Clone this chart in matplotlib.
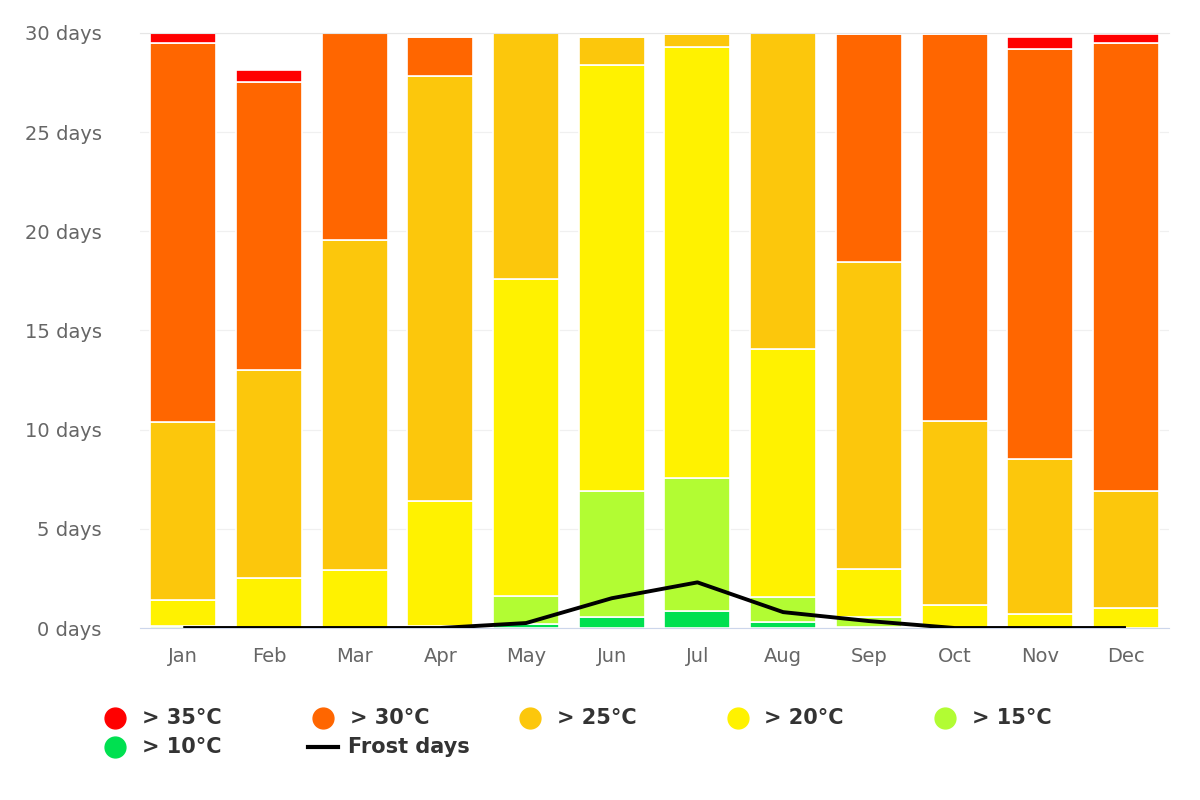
import matplotlib.pyplot as plt
from matplotlib.lines import Line2D
import numpy as np

plt.rcParams['font.family'] = ['DejaVu Sans']

# data (days per month above each temperature)
months = ['Jan', 'Feb', 'Mar', 'Apr', 'May', 'Jun', 'Jul', 'Aug', 'Sep', 'Oct', 'Nov', 'Dec']
d10 = [0, 0, 0, 0, 0.2, 0.55, 0.86, 0.3, 0.05, 0, 0, 0]
d15 = [0.1, 0, 0, 0.1, 1.4, 6.35, 6.7, 1.25, 0.5, 0, 0, 0]
d20 = [1.3, 2.5, 2.9, 6.3, 16.0, 21.5, 21.7, 12.5, 2.4, 1.15, 0.7, 1.0]
d25 = [9.0, 10.5, 16.65, 21.4, 12.4, 1.4, 0.7, 16.0, 15.5, 9.3, 7.8, 5.9]
d30 = [19.1, 14.5, 10.45, 2.0, 0, 0, 0, 0, 11.5, 19.5, 20.7, 22.6]
d35 = [0.5, 0.65, 0, 0, 0, 0, 0, 0, 0, 0, 0.6, 0.45]
frost = [0, 0, 0, 0, 0.25, 1.5, 2.3, 0.8, 0.35, 0, 0, 0]
yticks = [0, 5, 10, 15, 20, 25, 30]

series = [('> 10°C', d10, '#00e050'),
          ('> 15°C', d15, '#b2fc33'),
          ('> 20°C', d20, '#fff200'),
          ('> 25°C', d25, '#fcc70c'),
          ('> 30°C', d30, '#ff6600'),
          ('> 35°C', d35, '#ff0000')]

fig = plt.figure(figsize=(12, 8), dpi=100)
ax = fig.add_axes([0.117, 0.215, 0.857, 0.744])

x = np.arange(len(months))
bottom = np.zeros(len(months))
for name, vals, col in series:
    vals = np.array(vals)
    ax.bar(x, vals, width=0.77, bottom=bottom, color=col, edgecolor='white', linewidth=1.2, zorder=2)
    bottom += vals

ax.plot(x, frost, color='black', lw=2.8, zorder=3, solid_capstyle='butt')

ax.set_xlim(-0.5, len(months) - 0.5)
ax.set_ylim(0, 30)
ax.set_yticks(yticks)
ax.set_yticklabels([f'{v} days' for v in yticks])
ax.set_xticks(x)
ax.set_xticklabels(months)
ax.grid(axis='y', color='#f0f0f0', lw=0.9, zorder=0)
ax.tick_params(axis='both', length=0, colors='#666666', labelsize=14)
ax.tick_params(axis='x', pad=14)
ax.tick_params(axis='y', pad=28)
for s in ['left', 'right']:
    ax.spines[s].set_visible(False)
ax.spines['top'].set_color('#e6e6e6')
ax.spines['bottom'].set_color('#ccd6eb')

# legend laid out like the original (5 columns, 2 rows)
leg_items = [('> 35°C', '#ff0000', 'o'), ('> 30°C', '#ff6600', 'o'), ('> 25°C', '#fcc70c', 'o'),
             ('> 20°C', '#fff200', 'o'), ('> 15°C', '#b2fc33', 'o'), ('> 10°C', '#00e050', 'o'),
             ('Frost days', 'black', '-')]
for i, (lab, col, mk) in enumerate(leg_items):
    cx = (115 + (i % 5) * 207.5) / 1200
    cy = 1 - (718 + (i // 5) * 29) / 800
    if mk == 'o':
        fig.add_artist(Line2D([cx], [cy], marker='o', markersize=15, color=col, lw=0))
        fig.text(cx + 27 / 1200, cy, lab, fontsize=15, fontweight='bold', color='#333333', va='center')
    else:
        fig.add_artist(Line2D([cx - 15 / 1200, cx + 16 / 1200], [cy, cy], color=col, lw=3))
        fig.text(cx + 26 / 1200, cy, lab, fontsize=15, fontweight='bold', color='#333333', va='center')

fig.savefig('out.png', dpi=100)
